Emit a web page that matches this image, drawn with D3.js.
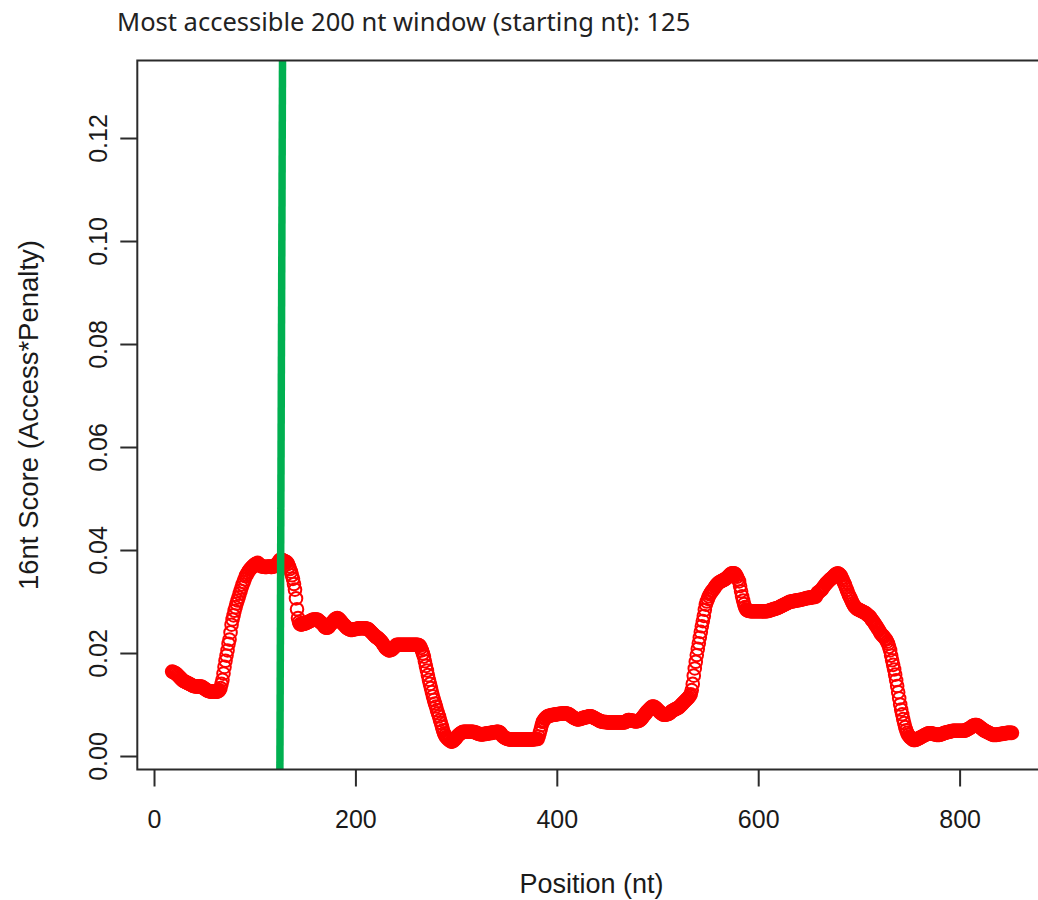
<!DOCTYPE html>
<html><head><meta charset="utf-8">
<script src="https://cdn.jsdelivr.net/npm/d3@7/dist/d3.min.js"></script>
<style>body{margin:0;background:#fff}svg{display:block}</style>
</head><body><svg id="c" width="1038" height="900"></svg>
<script>
// ---------- data ----------
const titleText = "Most accessible 200 nt window (starting nt): 125";
const xLabel = "Position (nt)";
const yLabel = "16nt Score (Access*Penalty)";
const xTicks = [0, 200, 400, 600, 800];
const xTickLabels = ["0", "200", "400", "600", "800"];
const yTicks = [0, 0.02, 0.04, 0.06, 0.08, 0.10, 0.12];
const yTickLabels = ["0.00", "0.02", "0.04", "0.06", "0.08", "0.10", "0.12"];
const windowStart = 125;            // most accessible window start (nt)
const markerTopPos = 127.6;         // hand-drawn marker leans slightly at the top
const firstPosition = 18;           // position of the first score (nt)
// 16nt score per position, in units of 1e-4
const scoreE4 = [
164,163,162,161,160,158,156,154,152,150,
148,146,145,144,143,142,141,140,139,138,
137,136,136,135,135,135,135,135,135,135,
134,132,131,130,128,127,126,126,125,125,
125,125,125,125,125,125,126,128,132,140,
148,160,173,185,195,205,218,226,240,255,
265,273,282,289,296,302,308,315,321,327,
333,338,343,349,352,356,359,362,364,366,
368,370,372,373,374,375,373,371,369,368,
368,368,367,367,367,368,368,368,367,367,
368,368,370,371,373,375,378,381,381,381,
380,379,378,377,376,373,368,363,358,351,
344,334,323,306,285,268,260,256,255,256,
256,257,257,258,259,260,261,262,263,264,
265,265,265,265,265,264,262,260,259,257,
255,252,250,249,249,250,252,255,257,259,
262,264,266,267,268,267,265,263,261,258,
256,254,252,250,248,247,246,245,245,245,
246,246,246,247,247,248,248,248,248,248,
248,248,248,247,247,246,244,242,240,238,
236,234,232,230,230,228,226,224,222,219,
216,213,210,208,207,205,205,206,206,208,
210,212,214,216,216,216,216,216,216,216,
216,216,216,216,216,216,216,216,216,216,
216,216,216,216,216,215,214,210,205,199,
193,184,175,166,157,148,140,132,124,116,
109,102,96,89,83,77,70,64,57,50,
44,40,37,35,33,31,30,28,28,29,
31,33,35,38,40,42,43,45,46,47,
47,47,47,47,47,47,47,47,47,47,
46,46,45,44,43,43,42,42,42,42,
43,43,43,44,44,44,45,45,45,46,
46,46,47,47,47,46,45,42,39,37,
36,35,34,33,33,32,32,32,32,32,
32,32,32,32,32,32,32,32,32,32,
32,32,32,32,32,32,32,32,32,32,
33,33,33,33,38,45,52,60,66,69,
72,74,76,77,78,78,79,79,80,80,
80,81,81,81,82,82,82,82,83,83,
83,83,82,82,81,80,78,77,75,74,
73,72,71,71,71,72,72,73,74,74,
75,75,76,76,77,77,77,76,75,74,
73,72,71,70,69,68,67,67,66,66,
66,66,65,65,65,65,65,65,65,65,
65,65,65,65,65,65,65,65,65,65,
66,67,69,70,70,69,69,69,68,68,
67,67,68,68,69,70,72,75,77,80,
82,85,87,89,91,93,95,96,96,95,
94,92,90,88,86,84,83,81,80,80,
80,81,81,82,83,85,87,88,89,90,
91,92,93,94,96,98,100,102,104,106,
108,110,112,114,117,120,128,140,156,170,
183,196,208,219,230,241,252,262,272,284,
294,300,305,310,314,317,320,322,325,328,
331,333,335,337,338,339,340,341,342,343,
345,346,348,350,352,354,355,355,355,354,
351,348,343,339,330,320,310,302,295,289,
285,283,282,282,281,281,281,281,281,281,
281,281,281,281,281,281,281,281,281,281,
281,281,282,282,283,284,284,285,286,286,
287,287,288,289,290,291,292,293,294,295,
296,297,298,299,300,300,300,301,301,302,
302,302,303,303,303,304,304,305,305,306,
306,307,307,307,308,308,308,309,309,309,
313,317,318,320,321,323,326,329,331,334,
336,338,340,342,344,345,347,349,351,353,
354,355,354,352,350,346,342,337,333,328,
323,318,313,309,305,300,296,293,290,288,
286,285,284,283,282,281,280,279,278,277,
275,273,272,270,267,264,262,259,256,253,
250,247,244,240,237,235,233,231,228,226,
222,218,212,205,195,186,177,168,158,147,
136,124,112,100,90,81,72,64,56,50,
45,41,38,36,35,33,31,31,31,32,
33,34,35,36,37,38,39,40,41,42,
43,44,44,44,44,43,43,42,42,41,
41,41,41,42,42,43,44,45,45,46,
46,47,47,48,48,49,49,49,49,49,
49,49,49,49,49,49,49,49,50,51,
52,53,54,55,57,58,59,60,60,60,
59,58,56,55,53,52,50,49,48,47,
46,45,44,43,42,41,41,41,41,41,
42,42,42,43,43,43,44,44,44,45,
45,45,45,45,45
];

// ---------- chart ----------
const points = scoreE4.map((v, i) => ({ pos: firstPosition + i, score: v / 1e4 }));

const svg = d3.select("#c");
const box = { left: 137.3, top: 60.5, bottom: 769.5, right: 1045.6 };

const x = d3.scaleLinear().domain([-16.6, 885.4]).range([box.left, box.right]);
const y = d3.scaleLinear().domain([-0.00262, 0.13505]).range([box.bottom, box.top]);

const axisColor = "#2b2b2b";
const tickFont = "'Liberation Sans', Arial, sans-serif";

// points (open circles)
svg.append("g")
  .selectAll("circle")
  .data(points)
  .join("circle")
  .attr("cx", d => x(d.pos))
  .attr("cy", d => y(d.score))
  .attr("r", 6.3)
  .attr("fill", "none")
  .attr("stroke", "#ff0000")
  .attr("stroke-width", 2);

// green marker line
svg.append("line")
  .attr("x1", x(windowStart)).attr("y1", box.bottom)
  .attr("x2", x(markerTopPos)).attr("y2", box.top)
  .attr("stroke", "#00b050")
  .attr("stroke-width", 7.5);

// plot box
svg.append("rect")
  .attr("x", box.left).attr("y", box.top)
  .attr("width", box.right - box.left).attr("height", box.bottom - box.top)
  .attr("fill", "none").attr("stroke", axisColor).attr("stroke-width", 2);

// x axis
const gx = svg.append("g")
  .attr("transform", `translate(0,${box.bottom})`)
  .call(d3.axisBottom(x).tickValues(xTicks).tickSize(17).tickPadding(24)
    .tickFormat((d, i) => xTickLabels[i]));
gx.select(".domain").remove();
gx.selectAll(".tick line").attr("stroke", axisColor).attr("stroke-width", 2);
gx.selectAll(".tick text")
  .attr("fill", "#1a1a1a")
  .style("font-family", tickFont).style("font-size", "25px");

// y axis
const gy = svg.append("g")
  .attr("transform", `translate(${box.left},0)`)
  .call(d3.axisLeft(y).tickValues(yTicks).tickSize(17)
    .tickFormat((d, i) => yTickLabels[i]));
gy.select(".domain").remove();
gy.selectAll(".tick line").attr("stroke", axisColor).attr("stroke-width", 2);
gy.selectAll(".tick text")
  .attr("x", 0).attr("y", -30).attr("dy", null)
  .attr("transform", "rotate(-90)")
  .attr("text-anchor", "middle")
  .attr("fill", "#1a1a1a")
  .style("font-family", tickFont).style("font-size", "25px");

// axis titles
svg.append("text")
  .attr("x", (box.left + box.right) / 2).attr("y", 893)
  .attr("text-anchor", "middle")
  .attr("fill", "#1a1a1a")
  .style("font-family", tickFont).style("font-size", "27px")
  .text(xLabel);

svg.append("text")
  .attr("transform", `translate(38,${(box.top + box.bottom) / 2}) rotate(-90)`)
  .attr("text-anchor", "middle")
  .attr("fill", "#1a1a1a")
  .style("font-family", tickFont).style("font-size", "27.5px")
  .text(yLabel);

// title
svg.append("text")
  .attr("x", 117).attr("y", 31)
  .attr("fill", "#222")
  .style("font-family", "'Noto Sans', 'Open Sans', sans-serif").style("font-size", "25.5px")
  .text(titleText);
</script>
</body></html>
